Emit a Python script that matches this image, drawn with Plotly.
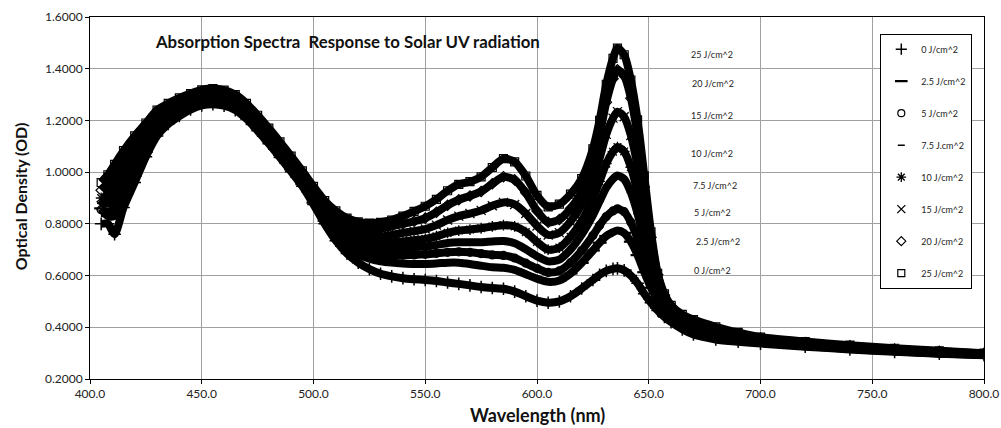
import plotly.graph_objects as go

# Wavelength sample points (nm)
wavelength = [405, 408, 411, 415, 420, 425, 430, 435, 440, 445, 450, 455, 460, 465, 470, 475,
              480, 485, 490, 495, 500, 505, 510, 515, 520, 525, 530, 535, 540, 545, 550, 555,
              560, 565, 570, 575, 580, 585, 590, 595, 600, 605, 610, 615, 620, 625, 628, 631,
              634, 636, 639, 642, 645, 648, 651, 654, 657, 660, 665, 670, 680, 690, 700, 720,
              740, 760, 780, 800]

od_0 = [0.80, 0.80, 0.76, 0.863, 0.96, 1.06, 1.14, 1.186, 1.217, 1.242, 1.258, 1.263, 1.257, 1.24, 1.206, 1.16,
        1.11, 1.057, 1.002, 0.945, 0.875, 0.80, 0.735, 0.685, 0.65, 0.625, 0.607, 0.597, 0.59, 0.586, 0.583, 0.579,
        0.573, 0.568, 0.562, 0.556, 0.552, 0.549, 0.538, 0.52, 0.503, 0.495, 0.5, 0.52, 0.55, 0.583, 0.603, 0.618,
        0.626, 0.628, 0.62, 0.6, 0.57, 0.53, 0.495, 0.465, 0.44, 0.42, 0.392, 0.372, 0.353, 0.344, 0.337, 0.325,
        0.314, 0.305, 0.298, 0.292]
od_2_5 = [0.86, 0.83, 0.83, 0.894, 0.986, 1.079, 1.154, 1.197, 1.227, 1.251, 1.267, 1.272, 1.266, 1.249, 1.215, 1.169,
          1.119, 1.066, 1.011, 0.954, 0.882, 0.812, 0.75, 0.71, 0.682, 0.665, 0.655, 0.65, 0.647, 0.645, 0.645, 0.647,
          0.65, 0.65, 0.645, 0.638, 0.632, 0.63, 0.622, 0.605, 0.588, 0.576, 0.581, 0.608, 0.649, 0.697, 0.727, 0.753,
          0.768, 0.774, 0.765, 0.731, 0.679, 0.613, 0.553, 0.506, 0.467, 0.439, 0.40, 0.38, 0.358, 0.348, 0.34, 0.327,
          0.316, 0.307, 0.299, 0.293]
od_5 = [0.855, 0.84, 0.87, 0.926, 1.011, 1.097, 1.169, 1.209, 1.237, 1.26, 1.275, 1.28, 1.274, 1.257, 1.223, 1.177,
        1.127, 1.074, 1.019, 0.962, 0.89, 0.822, 0.765, 0.728, 0.703, 0.69, 0.68, 0.679, 0.679, 0.68, 0.682, 0.686,
        0.69, 0.692, 0.69, 0.685, 0.68, 0.678, 0.668, 0.648, 0.628, 0.612, 0.618, 0.65, 0.697, 0.755, 0.794, 0.828,
        0.85, 0.858, 0.847, 0.806, 0.742, 0.66, 0.585, 0.526, 0.481, 0.449, 0.405, 0.385, 0.362, 0.351, 0.343, 0.329,
        0.318, 0.308, 0.30, 0.294]
od_7_5 = [0.88, 0.88, 0.91, 0.957, 1.037, 1.116, 1.183, 1.22, 1.247, 1.269, 1.284, 1.289, 1.283, 1.266, 1.232, 1.186,
          1.136, 1.083, 1.028, 0.971, 0.898, 0.832, 0.777, 0.745, 0.722, 0.712, 0.705, 0.706, 0.708, 0.71, 0.712, 0.718,
          0.726, 0.729, 0.729, 0.729, 0.732, 0.734, 0.725, 0.702, 0.675, 0.655, 0.662, 0.701, 0.759, 0.833, 0.887, 0.94,
          0.974, 0.987, 0.973, 0.921, 0.839, 0.731, 0.631, 0.552, 0.497, 0.46, 0.412, 0.392, 0.368, 0.355, 0.346, 0.332,
          0.32, 0.31, 0.302, 0.295]
od_10 = [0.90, 0.90, 0.94, 0.989, 1.063, 1.134, 1.197, 1.232, 1.257, 1.277, 1.292, 1.297, 1.291, 1.274, 1.24, 1.194,
         1.144, 1.091, 1.036, 0.979, 0.906, 0.842, 0.79, 0.76, 0.74, 0.731, 0.725, 0.728, 0.732, 0.737, 0.742, 0.752,
         0.765, 0.774, 0.778, 0.783, 0.79, 0.795, 0.79, 0.768, 0.73, 0.70, 0.708, 0.75, 0.812, 0.898, 0.964, 1.033,
         1.079, 1.097, 1.08, 1.019, 0.92, 0.79, 0.666, 0.572, 0.509, 0.469, 0.42, 0.40, 0.374, 0.36, 0.35, 0.335,
         0.322, 0.312, 0.303, 0.296]
od_15 = [0.87, 0.92, 0.97, 1.02, 1.089, 1.153, 1.211, 1.243, 1.267, 1.286, 1.301, 1.306, 1.30, 1.283, 1.249, 1.203,
         1.153, 1.10, 1.045, 0.988, 0.915, 0.855, 0.805, 0.778, 0.76, 0.753, 0.75, 0.757, 0.765, 0.772, 0.78, 0.795,
         0.815, 0.83, 0.84, 0.852, 0.87, 0.883, 0.875, 0.84, 0.792, 0.757, 0.766, 0.809, 0.874, 0.972, 1.053, 1.146,
         1.209, 1.234, 1.214, 1.142, 1.022, 0.862, 0.707, 0.59, 0.521, 0.477, 0.43, 0.41, 0.382, 0.366, 0.354, 0.338,
         0.325, 0.314, 0.305, 0.297]
od_20 = [0.93, 0.96, 1.0, 1.052, 1.114, 1.171, 1.226, 1.255, 1.277, 1.295, 1.309, 1.314, 1.308, 1.291, 1.257, 1.211,
         1.161, 1.108, 1.053, 0.996, 0.93, 0.87, 0.825, 0.80, 0.785, 0.78, 0.78, 0.79, 0.80, 0.81, 0.822, 0.845,
         0.872, 0.893, 0.908, 0.925, 0.955, 0.982, 0.97, 0.92, 0.85, 0.806, 0.817, 0.859, 0.924, 1.038, 1.143, 1.27,
         1.361, 1.396, 1.372, 1.286, 1.14, 0.943, 0.748, 0.603, 0.525, 0.481, 0.44, 0.42, 0.392, 0.373, 0.358, 0.341,
         0.328, 0.316, 0.307, 0.299]
od_25 = [0.96, 0.99, 1.03, 1.083, 1.14, 1.19, 1.24, 1.266, 1.287, 1.304, 1.318, 1.323, 1.317, 1.30, 1.266, 1.22,
         1.17, 1.117, 1.062, 1.005, 0.945, 0.89, 0.85, 0.822, 0.808, 0.803, 0.806, 0.815, 0.83, 0.848, 0.868, 0.895,
         0.928, 0.953, 0.963, 0.982, 1.018, 1.052, 1.04, 0.985, 0.91, 0.866, 0.876, 0.915, 0.975, 1.09, 1.2, 1.34,
         1.44, 1.48, 1.454, 1.356, 1.202, 0.986, 0.769, 0.609, 0.529, 0.485, 0.45, 0.43, 0.402, 0.38, 0.362, 0.345,
         0.331, 0.319, 0.309, 0.30]

series = [od_0, od_2_5, od_5, od_7_5, od_10, od_15, od_20, od_25]
legend_names = ["0 J/cm^2", "2.5 J/cm^2", "5 J/cm^2", "7.5 J.cm^2",
                "10 J/cm^2", "15 J/cm^2", "20 J/cm^2", "25 J/cm^2"]
symbols = ["cross-thin-open", "line-ew-open", "circle-open", "line-ew-open",
           "asterisk-open", "x-thin-open", "diamond-open", "square-open"]
sym_sizes = [8, 9, 7, 5, 8, 8, 7, 7]
sym_widths = [1.5, 2.2, 1.2, 1.5, 1.3, 1.3, 1.2, 1.2]

# in-plot dose labels (text and anchor position in data units)
dose_labels = ["25 J/cm^2", "20 J/cm^2", "15 J/cm^2", "10 J/cm^2",
               "7.5 J/cm^2", "5 J/cm^2", "2.5 J/cm^2", "0 J/cm^2"]
label_x = [678.4, 678.8, 678.4, 678.4, 679.6, 678.4, 680.9, 678.6]
label_y = [1.454, 1.341, 1.219, 1.071, 0.948, 0.843, 0.731, 0.619]

FONT = "Lato, 'Open Sans', sans-serif"

fig = go.Figure()

for i, ys in enumerate(series):
    fig.add_trace(go.Scatter(
        x=wavelength, y=ys, mode="lines+markers",
        line=dict(color="black", width=8, shape="spline", smoothing=0.7),
        marker=dict(symbol=symbols[i], size=sym_sizes[i] + 1, color="black",
                    line=dict(color="black", width=sym_widths[i])),
        showlegend=False, hoverinfo="skip"))

for i, name in enumerate(legend_names):
    fig.add_trace(go.Scatter(
        x=[None], y=[None], mode="markers", name=name, legendgroup=str(i),
        marker=dict(symbol=symbols[i], size=sym_sizes[i], color="black",
                    line=dict(color="black", width=sym_widths[i]))))

for t, lx, ly in zip(dose_labels, label_x, label_y):
    fig.add_annotation(x=lx, y=ly, xref="x", yref="y", text=t, showarrow=False,
                       xanchor="center", yanchor="middle",
                       font=dict(size=9, family=FONT, color="#222"))

fig.add_annotation(x=0.5, y=-0.1008, xref="paper", yref="paper", text="<b>Wavelength (nm)</b>",
                   showarrow=False, xanchor="center", yanchor="middle",
                   font=dict(size=18, family=FONT, color="#111"))
fig.add_annotation(x=-0.0775, y=0.504, xref="paper", yref="paper", text="<b>Optical Density (OD)</b>",
                   showarrow=False, textangle=-90, xanchor="center", yanchor="middle",
                   font=dict(size=16, family=FONT, color="#111"))

fig.update_layout(
    width=1001, height=428,
    margin=dict(l=90, r=17, t=17, b=49, autoexpand=False),
    paper_bgcolor="white", plot_bgcolor="white",
    font=dict(family=FONT, size=12, color="#222"),
    title=dict(text="<b>Absorption Spectra  Response to Solar UV radiation</b>",
               x=0.0738, xref="paper", xanchor="left",
               y=1 - 42 / 428, yref="container", yanchor="middle",
               font=dict(size=16.8, family=FONT, color="#111")),
    legend=dict(x=0.884, y=0.954, xanchor="left", yanchor="top",
                bgcolor="white", bordercolor="black", borderwidth=1,
                font=dict(size=9, family=FONT, color="#222"),
                tracegroupgap=13, itemwidth=30),
    showlegend=True,
)

fig.update_xaxes(range=[400, 800], dtick=50, tick0=400, tickformat=".1f",
                 showgrid=True, gridcolor="#a0a0a0", gridwidth=1,
                 showline=True, linecolor="black", linewidth=1, mirror=True,
                 ticks="outside", ticklen=4, tickcolor="black", automargin=False,
                 tickfont=dict(size=12, family=FONT, color="#222"), zeroline=False)
fig.update_yaxes(range=[0.2, 1.6], dtick=0.2, tick0=0.2, tickformat=".4f",
                 showgrid=True, gridcolor="#a0a0a0", gridwidth=1,
                 showline=True, linecolor="black", linewidth=1, mirror=True,
                 ticks="outside", ticklen=4, tickcolor="black", automargin=False,
                 tickfont=dict(size=12, family=FONT, color="#222"), zeroline=False)

fig.write_html("out.html", config={"displayModeBar": False},
               post_script="document.body.style.margin='0';document.body.style.overflow='hidden';")
